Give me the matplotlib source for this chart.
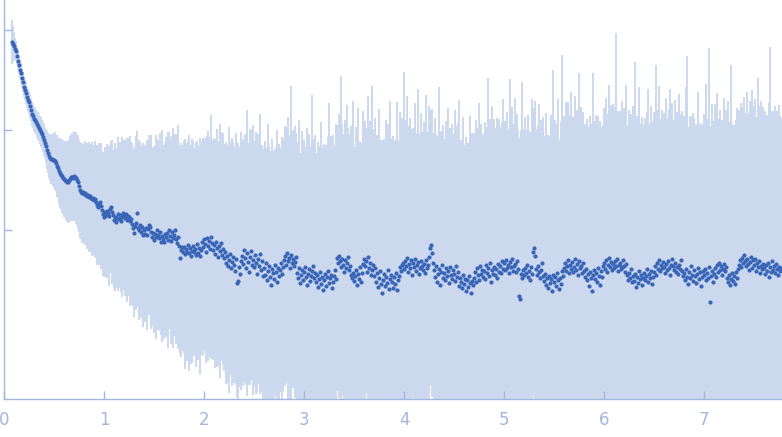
import numpy as np
import matplotlib
matplotlib.use("Agg")
import matplotlib.pyplot as plt

# Log-scaled intensity values (one per q step of 0.01, q = 0.08 ... 7.77)
log_intensity = [
 1.88, 1.86,
 1.84, 1.81, 1.79, 1.74, 1.69, 1.65, 1.60, 1.57, 1.52, 1.48,
 1.43, 1.40, 1.37, 1.33, 1.30, 1.28, 1.24, 1.20, 1.16, 1.14,
 1.11, 1.10, 1.08, 1.06, 1.04, 1.02, 1.00, 0.98, 0.96, 0.93,
 0.90, 0.87, 0.84, 0.80, 0.77, 0.74, 0.72, 0.71, 0.71, 0.70,
 0.70, 0.69, 0.67, 0.64, 0.62, 0.59, 0.57, 0.55, 0.54, 0.52,
 0.51, 0.50, 0.49, 0.48, 0.48, 0.50, 0.51, 0.53, 0.53, 0.52,
 0.54, 0.53, 0.52, 0.50, 0.48, 0.44, 0.40, 0.38, 0.37, 0.38,
 0.36, 0.37, 0.35, 0.34, 0.35, 0.33, 0.34, 0.32, 0.31, 0.32,
 0.30, 0.31, 0.28, 0.25, 0.23, 0.26, 0.28, 0.24, 0.20, 0.16,
 0.13, 0.18, 0.15, 0.19, 0.17, 0.14, 0.21, 0.23, 0.18, 0.15,
 0.10, 0.13, 0.08, 0.12, 0.16, 0.11, 0.15, 0.09, 0.13, 0.17,
 0.15, 0.12, 0.16, 0.10, 0.14, 0.13, 0.09, 0.11, 0.06, 0.02,
 -0.03, 0.04, 0.07, 0.17, 0.02, 0.00, 0.05, -0.02, 0.03, -0.05,
 0.00, -0.04, 0.02, -0.05, 0.01, 0.05, 0.03, -0.02, -0.07, -0.03,
 -0.10, -0.04, -0.07, 0.00, -0.05, -0.08, -0.02, -0.12, -0.06, -0.09,
 -0.12, -0.04, -0.07, -0.03, -0.10, 0.00, -0.06, -0.11, -0.02, -0.08,
 -0.05, 0.00, -0.09, -0.13, -0.07, -0.16, -0.28, -0.20, -0.17, -0.22,
 -0.17, -0.24, -0.19, -0.22, -0.15, -0.23, -0.18, -0.26, -0.21, -0.16,
 -0.22, -0.19, -0.25, -0.14, -0.23, -0.18, -0.26, -0.20, -0.12, -0.17,
 -0.09, -0.14, -0.22, -0.08, -0.16, -0.11, -0.19, -0.07, -0.13, -0.20,
 -0.15, -0.24, -0.12, -0.18, -0.27, -0.16, -0.21, -0.13, -0.25, -0.19,
 -0.28, -0.22, -0.33, -0.26, -0.36, -0.30, -0.24, -0.38, -0.32, -0.27,
 -0.35, -0.41, -0.29, -0.53, -0.51, -0.37, -0.44, -0.31, -0.26, -0.34,
 -0.20, -0.28, -0.38, -0.23, -0.32, -0.42, -0.27, -0.21, -0.35, -0.30,
 -0.37, -0.25, -0.33, -0.44, -0.29, -0.36, -0.24, -0.40, -0.31, -0.46,
 -0.38, -0.45, -0.33, -0.50, -0.41, -0.36, -0.47, -0.55, -0.39, -0.43,
 -0.49, -0.35, -0.42, -0.52, -0.38, -0.46, -0.40, -0.33, -0.44, -0.37,
 -0.30, -0.26, -0.35, -0.23, -0.31, -0.28, -0.38, -0.25, -0.33, -0.29,
 -0.36, -0.32, -0.27, -0.43, -0.48, -0.38, -0.53, -0.45, -0.40, -0.50,
 -0.42, -0.37, -0.47, -0.55, -0.44, -0.39, -0.51, -0.46, -0.41, -0.36,
 -0.48, -0.43, -0.52, -0.45, -0.57, -0.49, -0.42, -0.54, -0.47, -0.60,
 -0.50, -0.44, -0.56, -0.47, -0.41, -0.53, -0.48, -0.45, -0.58, -0.52,
 -0.46, -0.40, -0.49, -0.28, -0.33, -0.26, -0.31, -0.37, -0.29, -0.35,
 -0.42, -0.30, -0.38, -0.33, -0.27, -0.40, -0.36, -0.45, -0.48, -0.43,
 -0.51, -0.46, -0.40, -0.55, -0.44, -0.49, -0.37, -0.52, -0.43, -0.34,
 -0.29, -0.36, -0.31, -0.42, -0.27, -0.38, -0.33, -0.45, -0.40, -0.35,
 -0.46, -0.38, -0.52, -0.43, -0.57, -0.48, -0.41, -0.54, -0.63, -0.50,
 -0.44, -0.56, -0.47, -0.53, -0.40, -0.59, -0.49, -0.45, -0.52, -0.58,
 -0.47, -0.54, -0.43, -0.60, -0.50, -0.46, -0.37, -0.41, -0.35, -0.33,
 -0.39, -0.31, -0.36, -0.28, -0.42, -0.34, -0.38, -0.30, -0.45, -0.33,
 -0.37, -0.29, -0.41, -0.35, -0.32, -0.44, -0.38, -0.31, -0.36, -0.40,
 -0.34, -0.43, -0.30, -0.38, -0.35, -0.27, -0.18, -0.15, -0.23, -0.33,
 -0.40, -0.47, -0.36, -0.52, -0.44, -0.39, -0.55, -0.42, -0.35, -0.48,
 -0.43, -0.50, -0.38, -0.46, -0.41, -0.53, -0.37, -0.45, -0.49, -0.40,
 -0.44, -0.51, -0.36, -0.47, -0.42, -0.56, -0.48, -0.52, -0.58, -0.45,
 -0.54, -0.49, -0.61, -0.50, -0.57, -0.46, -0.53, -0.63, -0.51, -0.55,
 -0.48, -0.42, -0.52, -0.38, -0.45, -0.50, -0.36, -0.44, -0.40, -0.47,
 -0.41, -0.49, -0.35, -0.43, -0.38, -0.46, -0.33, -0.52, -0.40, -0.44,
 -0.37, -0.45, -0.39, -0.48, -0.34, -0.42, -0.36, -0.43, -0.31, -0.39,
 -0.33, -0.40, -0.30, -0.38, -0.35, -0.43, -0.32, -0.37, -0.29, -0.41,
 -0.36, -0.34, -0.42, -0.31, -0.39, -0.66, -0.69, -0.44, -0.48, -0.40,
 -0.45, -0.38, -0.43, -0.35, -0.47, -0.41, -0.50, -0.37, -0.44, -0.22,
 -0.18, -0.26, -0.39, -0.45, -0.36, -0.42, -0.48, -0.40, -0.33, -0.46,
 -0.51, -0.44, -0.55, -0.48, -0.58, -0.46, -0.53, -0.49, -0.61, -0.45,
 -0.52, -0.47, -0.56, -0.43, -0.50, -0.59, -0.48, -0.54, -0.41, -0.46,
 -0.38, -0.33, -0.41, -0.36, -0.30, -0.43, -0.35, -0.39, -0.32, -0.42,
 -0.37, -0.29, -0.40, -0.34, -0.45, -0.31, -0.38, -0.36, -0.43, -0.33,
 -0.41, -0.47, -0.39, -0.50, -0.44, -0.56, -0.42, -0.48, -0.61, -0.45,
 -0.40, -0.49, -0.43, -0.52, -0.38, -0.46, -0.55, -0.41, -0.47, -0.36,
 -0.33, -0.39, -0.30, -0.42, -0.35, -0.28, -0.37, -0.32, -0.40, -0.34,
 -0.38, -0.31, -0.36, -0.29, -0.41, -0.35, -0.33, -0.39, -0.37, -0.30,
 -0.36, -0.42, -0.34, -0.45, -0.50, -0.43, -0.48, -0.39, -0.52, -0.46,
 -0.51, -0.44, -0.57, -0.47, -0.53, -0.41, -0.49, -0.45, -0.55, -0.48,
 -0.43, -0.50, -0.46, -0.39, -0.52, -0.44, -0.48, -0.41, -0.54, -0.47,
 -0.42, -0.36, -0.45, -0.33, -0.39, -0.30, -0.41, -0.35, -0.38, -0.32,
 -0.37, -0.43, -0.34, -0.40, -0.31, -0.38, -0.45, -0.35, -0.29, -0.36,
 -0.40, -0.33, -0.42, -0.37, -0.44, -0.35, -0.39, -0.30, -0.41, -0.46,
 -0.43, -0.50, -0.39, -0.47, -0.54, -0.42, -0.48, -0.36, -0.45, -0.51,
 -0.40, -0.46, -0.53, -0.44, -0.38, -0.49, -0.42, -0.56, -0.47, -0.41,
 -0.45, -0.39, -0.50, -0.43, -0.48, -0.37, -0.72, -0.46, -0.41, -0.52,
 -0.44, -0.38, -0.47, -0.35, -0.42, -0.33, -0.40, -0.36, -0.45, -0.39,
 -0.34, -0.41, -0.37, -0.48, -0.52, -0.45, -0.55, -0.49, -0.43, -0.51,
 -0.46, -0.54, -0.42, -0.48, -0.39, -0.35, -0.30, -0.37, -0.28, -0.33,
 -0.25, -0.31, -0.36, -0.29, -0.34, -0.40, -0.32, -0.27, -0.38, -0.30,
 -0.35, -0.29, -0.41, -0.33, -0.37, -0.31, -0.43, -0.36, -0.39, -0.34,
 -0.38, -0.44, -0.35, -0.41, -0.33, -0.47, -0.37, -0.42, -0.31, -0.40,
 -0.36, -0.43, -0.34, -0.39, -0.45, -0.37, -0.41, -0.38,
]

# Error half-widths (same units)
error = [
 0.22, 0.18,
 0.14, 0.11, 0.10, 0.09, 0.09, 0.09, 0.09, 0.10, 0.09, 0.10,
 0.10, 0.10, 0.11, 0.10, 0.11, 0.11, 0.12, 0.11, 0.12, 0.12,
 0.12, 0.13, 0.12, 0.13, 0.14, 0.13, 0.14, 0.15, 0.14, 0.15,
 0.16, 0.15, 0.17, 0.19, 0.20, 0.22, 0.23, 0.25, 0.24, 0.26,
 0.27, 0.29, 0.28, 0.31, 0.30, 0.33, 0.35, 0.34, 0.37, 0.36,
 0.38, 0.37, 0.40, 0.39, 0.41, 0.40, 0.43, 0.42, 0.44, 0.43,
 0.45, 0.44, 0.46, 0.45, 0.47, 0.46, 0.48, 0.47, 0.50, 0.48,
 0.49, 0.52, 0.50, 0.53, 0.51, 0.55, 0.52, 0.54, 0.57, 0.53,
 0.55, 0.58, 0.56, 0.60, 0.57, 0.61, 0.58, 0.63, 0.59, 0.62,
 0.60, 0.65, 0.62, 0.67, 0.63, 0.70, 0.64, 0.66, 0.72, 0.65,
 0.68, 0.74, 0.66, 0.70, 0.77, 0.69, 0.73, 0.71, 0.80, 0.72,
 0.75, 0.78, 0.73, 0.82, 0.76, 0.79, 0.85, 0.77, 0.81, 0.78,
 0.84, 0.80, 0.87, 0.82, 0.79, 0.90, 0.83, 0.86, 0.81, 0.92,
 0.85, 0.88, 0.83, 0.95, 0.87, 0.90, 0.84, 0.97, 0.89, 0.86,
 0.93, 0.88, 1.02, 0.91, 0.95, 0.89, 0.99, 0.93, 1.06, 0.94,
 0.97, 0.91, 1.00, 0.95, 1.08, 0.98, 0.93, 1.03, 0.96, 1.10,
 1.01, 0.94, 1.05, 0.98, 1.12, 1.00, 0.96, 1.07, 1.02, 0.99,
 1.06, 1.15, 1.01, 1.09, 1.04, 1.18, 1.03, 1.08, 1.12, 1.05,
 1.04, 1.00, 1.12, 1.03, 1.07, 0.99, 1.18, 1.05, 1.01, 1.09,
 0.98, 1.06, 1.11, 1.02, 1.15, 1.04, 1.08, 1.22, 1.01, 1.10,
 1.07, 1.14, 1.03, 1.19, 1.09, 1.05, 1.27, 1.11, 1.06, 1.16,
 1.13, 1.08, 1.21, 1.10, 1.17, 1.33, 1.12, 1.07, 1.24, 1.15,
 1.18, 1.10, 1.26, 1.14, 1.38, 1.20, 1.12, 1.29, 1.16, 1.22,
 1.11, 1.24, 1.17, 1.43, 1.19, 1.13, 1.28, 1.21, 1.15, 1.35,
 1.20, 1.14, 1.31, 1.18, 1.25, 1.12, 1.40, 1.22, 1.16, 1.27,
 1.19, 1.34, 1.15, 1.23, 1.47, 1.20, 1.26, 0.98, 1.30, 1.21,
 1.28, 1.16, 1.24, 1.52, 1.19, 1.32, 1.22, 1.14, 1.37, 1.25,
 1.21, 1.30, 1.17, 1.26, 1.44, 1.20, 1.33, 1.69, 1.23, 1.29,
 1.18, 1.36, 1.24, 1.31, 1.00, 1.48, 1.27, 1.22, 1.39, 1.26,
 1.32, 1.20, 1.28, 1.57, 1.25, 1.35, 1.19, 1.30, 1.76, 1.27,
 1.24, 1.38, 1.29, 1.02, 1.45, 1.33, 1.26, 1.62, 1.30, 1.22,
 1.36, 1.27, 1.41, 1.25, 1.34, 1.80, 1.29, 1.39, 1.23, 1.47,
 1.30, 1.05, 1.55, 1.33, 1.28, 1.42, 1.26, 1.91, 1.35, 1.31,
 1.27, 1.40, 1.33, 1.58, 1.29, 1.36, 1.25, 1.49, 1.32, 1.72,
 1.34, 1.28, 1.43, 1.31, 1.66, 1.37, 1.26, 1.39, 1.30, 1.53,
 1.29, 1.45, 1.33, 1.03, 1.61, 1.35, 1.42, 1.28, 1.84, 1.36,
 1.31, 1.50, 1.27, 1.38, 1.33, 1.69, 1.30, 1.44, 1.26, 1.40,
 1.35, 1.28, 1.57, 1.32, 1.46, 1.29, 1.78, 1.37, 1.31, 1.52,
 1.30, 1.43, 1.34, 1.88, 1.39, 1.06, 1.55, 1.33, 1.47, 1.36,
 1.97, 1.41, 1.33, 1.62, 1.29, 1.38, 1.50, 1.31, 1.44, 1.35,
 1.28, 1.56, 1.37, 1.32, 1.73, 1.40, 1.30, 1.48, 1.34, 1.05,
 1.42, 1.31, 1.65, 1.36, 1.29, 1.51, 1.38, 1.33, 1.44, 1.30,
 1.37, 1.59, 1.32, 1.46, 1.28, 1.82, 1.35, 1.41, 1.30, 1.53,
 1.34, 1.29, 1.47, 1.38, 1.63, 1.31, 1.39, 1.04, 1.55, 1.36,
 1.30, 1.71, 1.40, 1.33, 1.49, 1.86, 1.35, 1.42, 1.28, 1.58,
 1.39, 1.32, 1.54, 1.36, 1.44, 1.07, 1.67, 1.37, 1.48, 1.33,
 1.45, 1.35, 1.62, 1.40, 1.31, 1.77, 1.38, 1.50, 1.34, 1.43,
 1.36, 1.57, 1.33, 1.46, 1.90, 1.39, 1.44, 1.32, 1.64, 1.37,
 1.48, 1.34, 1.41, 1.60, 1.37, 1.53, 1.08, 1.45, 1.39, 1.70,
 1.35, 1.49, 1.38, 1.56, 1.33, 1.43, 1.83, 1.40, 1.52, 1.36,
 1.42, 1.66, 1.34, 1.47, 1.39, 1.58, 1.36, 1.44, 1.96, 1.41,
 1.37, 1.51, 1.43, 1.06, 1.62, 1.40, 1.48, 1.35, 1.75, 1.44,
 1.39, 1.55, 1.34, 1.46, 1.41, 1.68, 1.37, 1.50, 1.36, 1.59,
 1.45, 1.38, 1.72, 1.42, 1.53, 1.10, 1.47, 1.64, 1.40, 2.05,
 1.43, 1.57, 1.39, 1.49, 1.81, 1.44, 1.38, 1.62, 2.16, 1.47,
 1.52, 1.41, 1.69, 1.45, 1.58, 1.12, 1.50, 1.77, 1.43, 1.55,
 1.40, 1.63, 1.47, 1.54, 1.42, 1.88, 1.46, 1.59, 1.41, 1.51,
 1.44, 1.53, 1.38, 1.61, 1.47, 1.42, 1.56, 1.35, 1.67, 2.02,
 1.49, 1.40, 1.58, 1.45, 1.52, 1.12, 1.64, 1.43, 1.50, 1.41,
 1.55, 1.46, 1.62, 1.39, 1.51, 1.73, 1.44, 1.57, 1.48, 1.60,
 1.42, 1.54, 2.33, 1.47, 1.60, 1.45, 1.52, 1.16, 1.66, 1.49,
 1.58, 1.44, 1.79, 1.50, 1.46, 1.63, 1.41, 1.55, 1.48, 1.70,
 1.45, 2.12, 1.53, 1.61, 1.47, 1.84, 1.56, 1.10, 1.68, 1.51,
 1.48, 1.62, 1.44, 1.57, 1.93, 1.50, 1.46, 1.65, 1.42, 1.55,
 1.60, 1.47, 2.10, 1.53, 1.45, 1.74, 1.52, 1.09, 1.58, 1.49,
 1.54, 1.46, 1.66, 1.51, 1.43, 1.59, 1.86, 1.48, 1.56, 1.45,
 1.50, 1.63, 1.47, 1.55, 1.08, 1.71, 1.52, 1.46, 1.60, 1.44,
 1.57, 1.49, 1.82, 2.21, 1.54, 1.45, 1.62, 1.50, 1.47, 1.68,
 1.52, 1.44, 1.59, 1.48, 1.76, 1.55, 1.43, 1.63, 1.51, 1.46,
 1.61, 1.49, 1.96, 1.54, 1.12, 2.19, 1.58, 1.50, 1.67, 1.47,
 1.53, 1.64, 1.46, 1.72, 1.51, 1.44, 1.60, 1.15, 1.55, 1.48,
 1.66, 1.50, 1.57, 1.45, 1.81, 1.53, 1.62, 2.14, 1.49, 1.56,
 1.46, 1.59, 1.52, 1.70, 1.48, 1.55, 1.10, 1.64, 1.51, 1.47,
 1.58, 1.45, 1.53, 1.67, 1.50, 1.44, 1.61, 1.49, 1.78, 1.54,
 1.47, 1.60, 1.52, 1.46, 1.89, 1.55, 1.49, 1.65, 1.43, 1.57,
 1.51, 1.63, 1.48, 1.56, 1.14, 1.74, 2.20, 1.54, 1.50, 1.59,
 1.46, 1.67, 1.52, 1.58, 1.49, 1.62, 1.55, 1.50,
]

q_start, q_step = 0.08, 0.01
q = q_start + q_step * np.arange(len(log_intensity))
y = np.array(log_intensity)
err = np.array(error)
n = min(len(q), len(err))
q, y, err = q[:n], y[:n], err[:n]

xticks = [0, 1, 2, 3, 4, 5, 6, 7]
yticks = [0, 1, 2]

axis_color = "#a3b6de"
band_color = "#cbd8ee"
point_color = "#3865b8"

fig = plt.figure(figsize=(7.82, 4.37), dpi=100)
ax = fig.add_axes([0.0055, 0.087, 0.9945, 0.913])

ax.errorbar(q, y, yerr=err, fmt="none", ecolor=band_color, elinewidth=1.4,
            capsize=0, zorder=1)
ax.plot(q, y, "o", ms=3.0, color=point_color, mec="none", zorder=2)

ax.set_xlim(0, 7.777)
ax.set_ylim(-1.69, 2.30)
ax.set_xticks(xticks)
ax.set_yticks(yticks)
ax.set_yticklabels([])
ax.tick_params(axis="both", direction="in", length=6, width=1,
               color=axis_color, labelcolor=axis_color, labelsize=12, pad=9)
for side in ("top", "right"):
    ax.spines[side].set_visible(False)
for side in ("left", "bottom"):
    ax.spines[side].set_color(axis_color)
    ax.spines[side].set_linewidth(1)

fig.savefig("out.png", dpi=100)
